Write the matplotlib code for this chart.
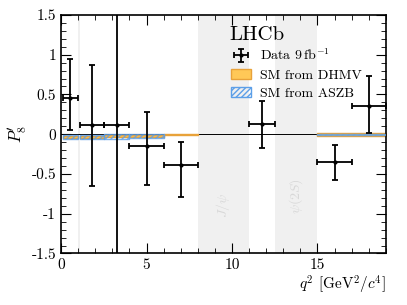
import numpy as np
import matplotlib
matplotlib.use("Agg")
import matplotlib.pyplot as plt
from matplotlib.patches import Patch

plt.rcParams['font.family'] = 'serif'
plt.rcParams['font.serif'] = ['cmr10']
plt.rcParams['mathtext.fontset'] = 'cm'
plt.rcParams['axes.unicode_minus'] = False
plt.rcParams['axes.formatter.use_mathtext'] = True

# data bins
bin_lo = [0.1, 1.1, 2.5, 4.0, 6.0, 11.0, 15.0, 17.0]
bin_hi = [0.98, 2.5, 4.0, 6.0, 8.0, 12.5, 17.0, 19.0]
p8 = [0.45, 0.11, 0.11, -0.15, -0.39, 0.13, -0.35, 0.36]
err_up = [0.50, 0.76, 1.9, 0.43, 0.29, 0.29, 0.22, 0.37]
err_dn = [0.40, 0.76, 1.9, 0.49, 0.40, 0.30, 0.22, 0.34]

# SM predictions (DHMV)
dhmv_lo = [0.1, 1.1, 2.5, 4.0, 6.0, 15.0]
dhmv_hi = [0.98, 2.5, 4.0, 6.0, 8.0, 19.0]
dhmv_min = [-0.045, -0.05, -0.04, -0.035, -0.015, -0.02]
dhmv_max = [-0.02, -0.025, -0.015, -0.01, 0.0, 0.01]

# SM predictions (ASZB)
aszb_lo = [0.1, 1.1, 2.5, 4.0, 15.0]
aszb_hi = [0.98, 2.5, 4.0, 6.0, 19.0]
aszb_min = [-0.06, -0.065, -0.055, -0.05, -0.015]
aszb_max = [-0.01, -0.015, 0.0, 0.0, -0.002]

vetoes = [(0.98, 1.1), (8.0, 11.0), (12.5, 15.0)]

fig = plt.figure(figsize=(4.07, 3.05), dpi=100)
ax = fig.add_axes([0.15, 0.169, 0.798, 0.782])

for a, b in vetoes:
    ax.axvspan(a, b, color='#f0f0f0', lw=0, zorder=0)
ax.text(9.5, -0.9, r'$J/\psi$', rotation=90, color='#d8d8d8', ha='center', va='center', fontsize=10)
ax.text(13.75, -0.78, r'$\psi(2S)$', rotation=90, color='#d8d8d8', ha='center', va='center', fontsize=10)

ax.axhline(0, color='black', lw=0.7, zorder=1)

for i in range(len(dhmv_lo)):
    ax.fill_between([dhmv_lo[i], dhmv_hi[i]], dhmv_min[i], dhmv_max[i],
                    facecolor='#ffc857', edgecolor='#e8a23a', lw=1, zorder=2)
for i in range(len(aszb_lo)):
    ax.fill_between([aszb_lo[i], aszb_hi[i]], aszb_min[i], aszb_max[i],
                    facecolor='none', edgecolor='#5c9fe8', hatch='//////', lw=1, alpha=0.8, zorder=3)

xc = [(l + h) / 2 for l, h in zip(bin_lo, bin_hi)]
xe = [(h - l) / 2 for l, h in zip(bin_lo, bin_hi)]
data = ax.errorbar(xc, p8, xerr=xe, yerr=[err_dn, err_up], fmt='o', ms=2, color='black',
                   elinewidth=1.3, capsize=2.5, capthick=1.3, zorder=5)

ax.set_xlim(0, 19)
ax.set_ylim(-1.5, 1.5)
ax.set_xticks([0, 5, 10, 15])
ax.set_xticklabels(['0', '5', '10', '15'])
ax.set_yticks([-1.5, -1, -0.5, 0, 0.5, 1, 1.5])
ax.set_yticklabels(['-1.5', '-1', '-0.5', '0', '0.5', '1', '1.5'])
ax.set_xticks(np.arange(0, 19.1, 1), minor=True)
ax.set_yticks(np.arange(-1.5, 1.51, 0.1), minor=True)
ax.tick_params(which='both', direction='in', top=True, right=True, labelsize=11)
ax.tick_params(which='major', length=7)
ax.tick_params(which='minor', length=3.5)
for s in ax.spines.values():
    s.set_linewidth(1.2)

ax.set_ylabel(r"$P_8'$", fontsize=12, labelpad=2)
ax.set_xlabel(r'$q^2$ [GeV$^2/c^4$]', fontsize=11, loc='right', labelpad=1)

ax.text(9.85, 1.13, 'LHCb', fontsize=15, ha='left', va='bottom')
handles = [
    data,
    Patch(facecolor='#ffc857', edgecolor='#e8a23a'),
    Patch(facecolor='none', edgecolor='#5c9fe8', hatch='//////'),
]
labels = [r'Data $9\,\mathrm{fb}^{-1}$', 'SM from DHMV', 'SM from ASZB']
ax.legend(handles, labels, loc='upper left', bbox_to_anchor=(0.485, 0.915), frameon=False,
          fontsize=10, handlelength=1.45, handletextpad=0.6, labelspacing=0.4)

fig.savefig('out.png', dpi=100)
